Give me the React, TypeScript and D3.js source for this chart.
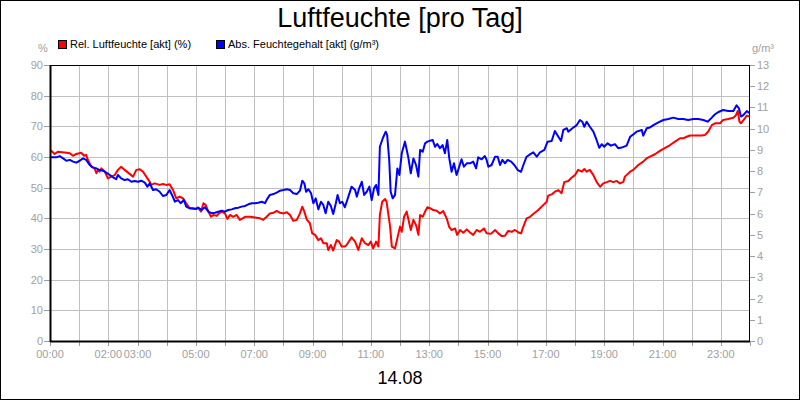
import React from "react";
import * as d3 from "d3";

const relHours = [0,0.04,0.16,0.27,0.5,0.68,0.79,0.9,1.07,1.17,1.24,1.3,1.42,1.53,1.59,1.65,1.7,1.76,1.88,1.99,2.1,2.22,2.33,2.44,2.56,2.73,2.85,2.96,3.08,3.19,3.3,3.42,3.47,3.59,3.76,3.87,3.99,4.1,4.22,4.33,4.45,4.56,4.67,4.79,4.96,5.07,5.18,5.26,5.34,5.43,5.52,5.6,5.72,5.79,5.89,6,6.08,6.17,6.28,6.4,6.51,6.69,6.86,7.03,7.2,7.31,7.43,7.54,7.66,7.77,7.89,8,8.12,8.23,8.34,8.46,8.57,8.65,8.72,8.8,8.91,8.99,9.09,9.2,9.29,9.37,9.49,9.54,9.63,9.71,9.83,9.91,10,10.11,10.17,10.34,10.46,10.57,10.69,10.8,10.91,11,11.08,11.18,11.26,11.31,11.39,11.49,11.54,11.66,11.72,11.83,11.91,12,12.06,12.14,12.23,12.28,12.37,12.46,12.55,12.63,12.69,12.78,12.86,12.94,13.03,13.14,13.26,13.37,13.48,13.6,13.69,13.77,13.89,13.96,14.06,14.17,14.29,14.4,14.51,14.63,14.74,14.88,14.97,15.09,15.14,15.26,15.37,15.49,15.6,15.71,15.83,15.94,16.06,16.15,16.23,16.34,16.46,16.57,16.74,16.91,17.03,17.08,17.2,17.31,17.43,17.54,17.63,17.77,17.89,18,18.11,18.23,18.32,18.4,18.51,18.63,18.74,18.86,18.97,19.09,19.2,19.31,19.43,19.54,19.66,19.71,19.89,20,20.17,20.34,20.46,20.57,20.74,20.91,21.09,21.26,21.43,21.6,21.71,21.83,21.94,22.11,22.34,22.46,22.57,22.69,22.8,22.97,23.08,23.25,23.43,23.51,23.58,23.64,23.69,23.81,23.89,24];
const relValues = [62.3,62.0,61.0,61.7,61.5,61.2,60.4,61.0,61.4,60.4,60.7,59.0,56.8,56.3,54.7,55.8,55.2,56.3,55.2,53.0,53.6,54.1,55.8,56.8,55.8,54.5,53.6,55.8,56.0,55.2,53.6,51.9,50.9,51.4,50.9,51.2,50.9,51.1,49.2,46.5,47.1,46.5,44.9,43.3,43.0,43.5,42.2,44.9,44.3,42.2,40.5,41.1,40.8,41.6,42.2,41.6,39.8,41.1,40.5,41.1,39.5,40.5,40.5,40.3,40.0,39.5,40.5,41.6,41.8,42.4,41.8,41.6,42.0,41.1,39.2,39.5,41.6,43.8,42.2,39.7,38.4,35.1,34.6,32.9,33.5,31.9,31.9,29.7,31.3,29.5,32.9,32.4,30.8,30.8,31.3,33.8,32.4,29.7,33.5,31.9,31.3,32.4,30.2,32.4,30.8,41.1,45.4,46.3,45.4,37.3,30.8,30.2,33.5,37.3,35.6,40.5,42.2,40.0,36.2,39.5,37.8,34.6,41.1,40.5,42.2,43.6,43.3,42.7,42.5,41.6,42.4,40.0,37.1,36.2,36.7,34.6,36.2,35.3,36.4,35.4,34.6,36.2,35.6,36.7,35.1,35.0,35.1,36.2,35.1,34.2,34.3,35.9,35.6,36.2,35.4,35.1,37.3,40.0,40.5,41.4,42.7,44.3,45.4,47.4,47.8,48.7,49.2,48.2,51.8,52.2,53.3,54.1,55.8,55.2,56.1,55.2,55.8,54.1,51.9,50.3,51.4,51.8,52.2,51.8,52.2,51.4,51.9,53.6,55.2,55.8,57.4,58.5,59.6,60.1,60.9,62.0,63.0,63.9,65.0,66.1,66.1,66.6,67.0,67.0,67.0,67.2,68.3,70.4,71.0,71.0,72.1,72.4,72.8,73.5,75.0,71.5,71.0,72.4,73.5,73.2];

const absHours = [0,0.04,0.22,0.33,0.45,0.56,0.68,0.79,0.9,1.02,1.13,1.24,1.36,1.47,1.59,1.7,1.82,1.93,2.05,2.16,2.27,2.33,2.44,2.56,2.67,2.79,2.9,3.02,3.13,3.25,3.34,3.42,3.53,3.64,3.76,3.87,3.99,4.1,4.22,4.28,4.39,4.48,4.59,4.67,4.79,4.9,5.02,5.08,5.2,5.31,5.43,5.54,5.66,5.77,5.89,6,6.11,6.23,6.34,6.46,6.57,6.69,6.8,6.92,7.03,7.14,7.26,7.37,7.46,7.54,7.66,7.77,7.89,8,8.12,8.23,8.34,8.46,8.57,8.65,8.72,8.78,8.86,8.95,9.03,9.11,9.2,9.29,9.37,9.45,9.54,9.63,9.71,9.8,9.86,9.94,10.02,10.11,10.23,10.34,10.46,10.52,10.6,10.69,10.77,10.86,10.95,11.03,11.11,11.18,11.26,11.31,11.41,11.51,11.56,11.63,11.68,11.75,11.83,11.91,11.98,12.06,12.17,12.28,12.37,12.46,12.55,12.63,12.69,12.78,12.86,12.94,13.03,13.12,13.2,13.28,13.37,13.46,13.54,13.62,13.69,13.77,13.85,13.94,14.03,14.11,14.19,14.29,14.4,14.51,14.61,14.68,14.8,14.91,14.97,15.03,15.14,15.26,15.35,15.43,15.51,15.6,15.69,15.81,15.92,16.04,16.15,16.23,16.34,16.46,16.57,16.69,16.8,16.95,17.06,17.2,17.31,17.43,17.52,17.6,17.72,17.77,17.91,18.06,18.17,18.25,18.32,18.4,18.51,18.63,18.74,18.83,18.92,19,19.12,19.23,19.37,19.48,19.6,19.77,19.89,20,20.11,20.29,20.34,20.46,20.57,20.69,20.86,21.03,21.2,21.37,21.54,21.71,21.88,22.06,22.23,22.4,22.55,22.69,22.8,22.94,23.08,23.25,23.43,23.54,23.62,23.69,23.77,23.89,24];
const absValues = [8.65,8.65,8.65,8.71,8.6,8.49,8.53,8.45,8.4,8.49,8.6,8.53,8.29,8.18,8.13,8.05,8.02,7.93,7.82,7.71,7.62,7.82,7.66,7.58,7.62,7.5,7.54,7.5,7.55,7.46,7.27,7.43,7.11,7.15,7.03,6.83,6.88,7.11,6.77,6.56,6.64,6.49,6.64,6.33,6.25,6.25,6.22,6.28,6.17,6.3,6.09,6.02,6.04,6.09,6.14,6.09,6.17,6.2,6.25,6.28,6.33,6.36,6.44,6.49,6.49,6.51,6.56,6.49,6.72,6.88,6.92,6.99,7.08,7.11,7.15,7.11,6.96,6.92,7.08,7.55,7.43,7.03,7.15,6.96,6.49,6.72,6.2,6.56,6.41,6.02,6.56,6.36,5.98,6.49,6.88,6.49,6.56,6.3,6.8,7.27,7.11,6.8,7.19,7.5,6.88,7.03,7.27,6.64,7.19,7.35,6.88,9.15,9.55,9.86,9.7,8.53,7.03,6.72,6.88,8.13,7.82,8.84,9.39,8.68,7.9,8.6,8.29,7.74,9.0,8.92,9.31,9.39,9.43,9.47,9.15,9.28,9.08,9.23,8.84,9.47,8.6,7.97,8.37,7.82,8.21,8.56,8.21,8.37,8.37,8.45,8.13,8.65,8.56,8.71,8.53,8.21,8.29,8.68,8.68,8.29,8.53,8.37,8.53,8.45,8.29,8.05,7.97,8.29,8.68,8.79,8.89,8.68,8.89,9.0,9.39,9.42,9.89,9.62,9.42,9.94,10.02,9.86,10.02,10.17,10.41,10.33,10.09,10.33,10.09,9.86,9.47,9.1,9.27,9.15,9.31,9.2,9.27,9.08,9.11,9.2,9.62,9.73,9.86,9.94,9.67,10.02,10.06,10.17,10.3,10.41,10.46,10.52,10.46,10.46,10.41,10.46,10.46,10.41,10.33,10.52,10.68,10.8,10.88,10.83,10.83,11.1,10.96,10.57,10.64,10.83,10.72];

const leftTicks = [0,10,20,30,40,50,60,70,80,90];
const rightTicks = [0,1,2,3,4,5,6,7,8,9,10,11,12,13];
const hourTicks = d3.range(0, 25);
const hourLabels = [0,2,3,5,7,9,11,13,15,17,19,21,23];

const title = "Luftfeuchte [pro Tag]";
const dateLabel = "14.08";
const seriesNames = ["Rel. Luftfeuchte [akt] (%)", "Abs. Feuchtegehalt [akt] (g/m³)"];
const seriesColors = ["#ff0000", "#0000ff"];

const W = 800, H = 400;
const M = { left: 50, right: 750, top: 65, bottom: 341 };
const FONT = "Arial, 'Liberation Sans', sans-serif";
const GRAY = "#a0a0a0";
const GRID = "#c0c0c0";

export default function App() {
  const x = d3.scaleLinear().domain([0, 24]).range([M.left, M.right]);
  const yL = d3.scaleLinear().domain([0, 90]).range([M.bottom, M.top]);
  const yR = d3.scaleLinear().domain([0, 13]).range([M.bottom, M.top]);

  const relLine = d3.line<number>().x((_, i) => x(relHours[i])).y((d) => yL(d));
  const absLine = d3.line<number>().x((_, i) => x(absHours[i])).y((d) => yR(d));

  const pad = (h: number) => (h < 10 ? "0" : "") + h + ":00";

  return (
    <svg width={W} height={H} style={{ position: "absolute", left: 0, top: 0, background: "#fff" }} fontFamily={FONT}>
      <rect x={0.5} y={0.5} width={W - 1} height={H - 1} fill="#fff" stroke="#000" />
      <defs>
        <clipPath id="plotclip">
          <rect x={M.left} y={M.top} width={M.right - M.left} height={M.bottom - M.top} />
        </clipPath>
      </defs>
      <text x={400} y={27} textAnchor="middle" fontSize={27} fill="#000">{title}</text>
      {/* legend */}
      <rect x={58.5} y={40.5} width={8} height={8} fill={seriesColors[0]} stroke="#000" strokeWidth={1} />
      <text x={70} y={48} fontSize={11} fill="#000">{seriesNames[0]}</text>
      <rect x={216.5} y={40.5} width={8} height={8} fill={seriesColors[1]} stroke="#000" strokeWidth={1} />
      <text x={228} y={48} fontSize={11} fill="#000">{seriesNames[1]}</text>
      <text x={43} y={52} fontSize={11} fill={GRAY} textAnchor="middle">%</text>
      <text x={763} y={52} fontSize={11} fill={GRAY} textAnchor="middle">g/m³</text>

      {/* grid */}
      {hourTicks.slice(1, 24).map((h) => (
        <line key={"vg" + h} x1={Math.round(x(h)) + 0.5} x2={Math.round(x(h)) + 0.5} y1={M.top} y2={M.bottom} stroke={GRID} />
      ))}
      {leftTicks.slice(1, 9).map((v) => (
        <line key={"hg" + v} x1={M.left} x2={M.right} y1={Math.round(yL(v)) + 0.5} y2={Math.round(yL(v)) + 0.5} stroke={GRID} />
      ))}

      {/* ticks and labels */}
      {leftTicks.map((v) => (
        <g key={"lt" + v}>
          <line x1={44} x2={M.left} y1={Math.round(yL(v)) + 0.5} y2={Math.round(yL(v)) + 0.5} stroke={GRAY} />
          <text x={43} y={yL(v) + 4} fontSize={11} fill={GRAY} textAnchor="end">{v}</text>
        </g>
      ))}
      {rightTicks.map((v) => (
        <g key={"rt" + v}>
          <line x1={M.right} x2={755} y1={Math.round(yR(v)) + 0.5} y2={Math.round(yR(v)) + 0.5} stroke={GRAY} />
          <text x={757} y={yR(v) + 4} fontSize={11} fill={GRAY} textAnchor="start">{v}</text>
        </g>
      ))}
      {hourTicks.map((h) => (
        <line key={"bt" + h} x1={Math.round(x(h)) + 0.5} x2={Math.round(x(h)) + 0.5} y1={M.bottom} y2={M.bottom + 5} stroke={GRAY} />
      ))}
      {hourLabels.map((h) => (
        <text key={"bl" + h} x={x(h)} y={358} fontSize={11} fill={GRAY} textAnchor="middle">{pad(h)}</text>
      ))}

      {/* series */}
      <g clipPath="url(#plotclip)">
        <path d={relLine(relValues) || ""} fill="none" stroke={seriesColors[0]} strokeWidth={2} strokeLinejoin="round" />
        <path d={absLine(absValues) || ""} fill="none" stroke={seriesColors[1]} strokeWidth={2} strokeLinejoin="round" />
      </g>

      {/* plot frame */}
      <rect x={M.left + 0.5} y={M.top + 0.5} width={M.right - M.left - 1} height={M.bottom - M.top} fill="none" stroke="#000" />
      <line x1={M.left + 0.5} x2={M.left + 0.5} y1={M.top} y2={M.bottom + 1} stroke="#000" strokeWidth={2} />
      <line x1={M.left} x2={M.right} y1={M.bottom + 0.5} y2={M.bottom + 0.5} stroke="#000" strokeWidth={2} />

      <text x={400} y={384} textAnchor="middle" fontSize={18} fill="#000">{dateLabel}</text>
    </svg>
  );
}
